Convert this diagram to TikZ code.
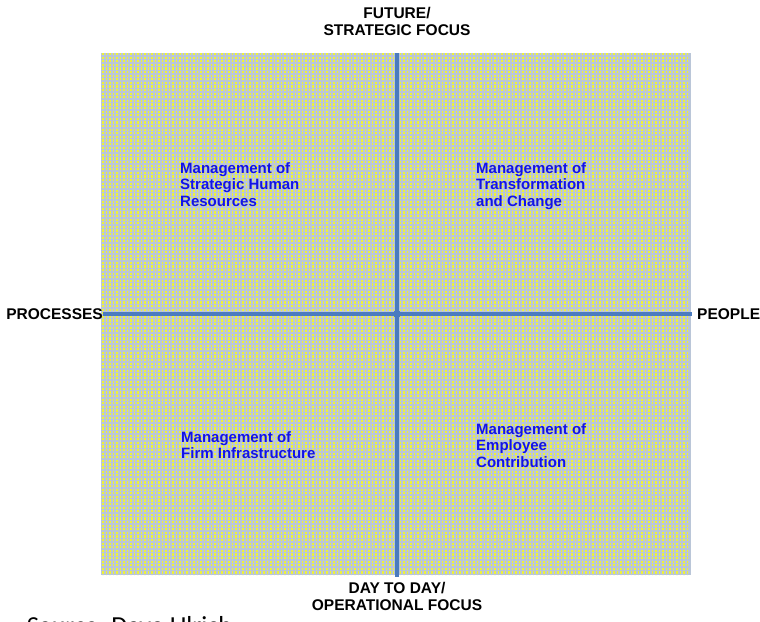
\documentclass[tikz,border=0pt]{standalone}
\usepackage{fontspec}
\setmainfont{Liberation Sans}
\newfontfamily\srcfont{Carlito}
\definecolor{fieldbg}{HTML}{BAC6D8}
\definecolor{fielddot}{HTML}{EEF23A}
\definecolor{axisblue}{HTML}{4A7BBF}
\definecolor{quadblue}{HTML}{1212E8}
\tikzset{
  axislabel/.style = {font=\bfseries\fontsize{15.5}{17}\selectfont, align=center, inner sep=0pt},
  quadrant/.style  = {font=\bfseries\fontsize{15}{16.7}\selectfont, text=quadblue,
                      align=left, anchor=north west, inner sep=0pt},
  axisline/.style  = {draw=axisblue, line width=3.5pt}
}

\begin{document}
\begin{tikzpicture}[x=1pt,y=-1pt]
  \useasboundingbox (0,0) rectangle (760,621);
  % dotted field
  \fill[fieldbg] (101,53) rectangle (691,575);
  \foreach \x in {103,106.5,...,690} { \draw[fielddot, line width=1.8pt, dash pattern=on 2.2pt off 1.4pt] (\x,53) -- (\x,575); };
  % axis ends
  \coordinate (n) at (397,53);
  \coordinate (s) at (397,577);
  \coordinate (w) at (103,314);
  \coordinate (e) at (692,314);
  \coordinate (c) at (397,314);
  \draw[axisline] (n) -- (s);
  \draw[axisline] (w) -- (e);
  \fill[axisblue] (c) circle (4);
  % axis labels
  \node[axislabel] (future) at (397,21) {FUTURE/\\STRATEGIC FOCUS};
  \node[axislabel] (daytoday) at (397,596) {DAY TO DAY/\\OPERATIONAL FOCUS};
  \node[axislabel, anchor=east] (processes) at (103,314) {PROCESSES};
  \node[axislabel, anchor=west] (people) at (697,314) {PEOPLE};
  % quadrants
  \node[quadrant] (shr) at (180,162) {Management of\\Strategic Human\\Resources};
  \node[quadrant] (tc)  at (476,162) {Management of\\Transformation\\and Change};
  \node[quadrant] (fi)  at (181,431) {Management of\\Firm Infrastructure};
  \node[quadrant] (ec)  at (476,423) {Management of\\Employee\\Contribution};
  % source line
  \node[anchor=base west, inner sep=0pt, font=\srcfont\fontsize{26}{30}\selectfont] (source) at (26,634) {\textit{Source:} Dave Ulrich};
\end{tikzpicture}
\end{document}
